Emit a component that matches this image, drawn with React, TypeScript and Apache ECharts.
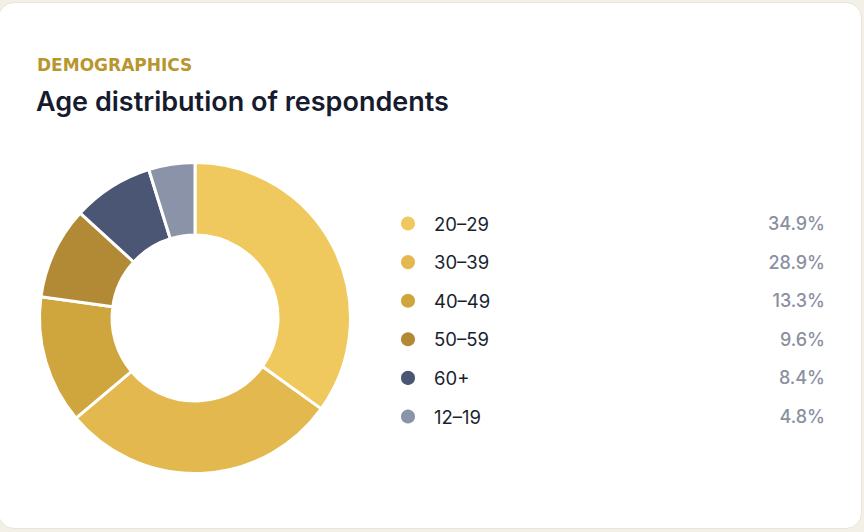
import React, { useEffect, useRef } from "react";
import * as echarts from "echarts";

const categories = ["20–29", "30–39", "40–49", "50–59", "60+", "12–19"];
const shares = [34.9, 28.9, 13.3, 9.6, 8.4, 4.8];
const colors = ["#EFC95D", "#E3B94F", "#CFA63E", "#B28A35", "#4B5674", "#8B93A8"];
const eyebrow = "DEMOGRAPHICS";
const heading = "Age distribution of respondents";

export default function App() {
  const ref = useRef<HTMLDivElement>(null);
  useEffect(() => {
    if (!ref.current) return;
    const chart = echarts.init(ref.current, undefined, { renderer: "svg" });
    const valueOf: Record<string, number> = {};
    categories.forEach((c, i) => (valueOf[c] = shares[i]));
    chart.setOption({
      animation: false,
      graphic: [
        {
          type: "text",
          left: 37,
          top: 56.5,
          style: {
            text: eyebrow,
            fill: "#B8962F",
            font: "bold 17px 'DejaVu Sans'",
          },
        },
        {
          type: "text",
          left: 36,
          top: 88,
          style: {
            text: heading,
            fill: "#161B2E",
            font: "600 27px Inter",
          },
        },
      ],
      legend: {
        orient: "vertical",
        left: 399,
        top: 214,
        padding: 0,
        itemWidth: 16,
        itemHeight: 16,
        itemGap: 19.6,
        icon: "circle",
        selectedMode: false,
        data: categories,
        formatter: (name: string) => `{n|${name}}{v|${valueOf[name].toFixed(1)}%}`,
        textStyle: {
          padding: [0, 0, 0, 13],
          rich: {
            n: {
              width: 300,
              fontSize: 18.5,
              fontFamily: "Inter",
              color: "#1A1F30",
              lineHeight: 20,
            },
            v: {
              width: 91,
              align: "right",
              fontSize: 18,
              fontFamily: "Inter",
              fontWeight: 500,
              color: "#8A8FA2",
              lineHeight: 20,
            },
          },
        },
      },
      series: [
        {
          type: "pie",
          center: [195, 318],
          radius: [83, 155.5],
          startAngle: 90,
          clockwise: true,
          silent: true,
          label: { show: false },
          labelLine: { show: false },
          emphasis: { disabled: true },
          itemStyle: { borderColor: "#FFFFFF", borderWidth: 3 },
          data: categories.map((c, i) => ({
            name: c,
            value: shares[i],
            itemStyle: { color: colors[i] },
          })),
        },
      ],
    });
    return () => chart.dispose();
  }, []);

  return (
    <div style={{ position: "fixed", inset: 0, background: "#F3F0E7", overflow: "hidden" }}>
      <div
        style={{
          position: "absolute",
          left: -2,
          top: 2,
          width: 864,
          height: 527,
          boxSizing: "border-box",
          background: "#FFFFFF",
          border: "1px solid #E9E4D6",
          borderRadius: 16,
        }}
      />
      <div ref={ref} style={{ position: "absolute", left: 0, top: 0, width: 864, height: 532 }} />
    </div>
  );
}
